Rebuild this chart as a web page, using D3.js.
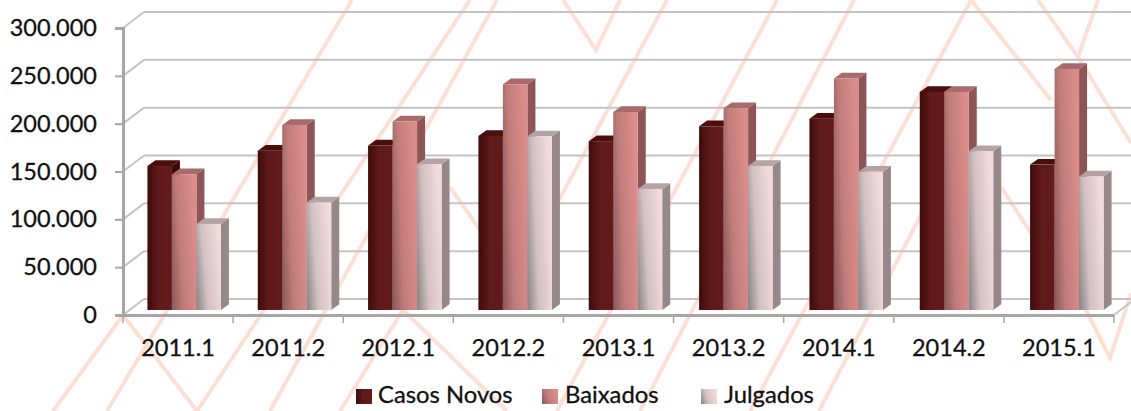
<!DOCTYPE html>
<html>
<head>
<meta charset="utf-8">
<script src="https://cdn.jsdelivr.net/npm/d3@7"></script>
<style>
  html, body { margin: 0; padding: 0; background: #fff; }
  svg { display: block; }
  text { font-family: Lato, "Open Sans", sans-serif; fill: #111; stroke: #111; stroke-width: 0.3px; }
</style>
</head>
<body>
<div id="chart"></div>
<script>
// Chart data
const periods = ['2011.1', '2011.2', '2012.1', '2012.2', '2013.1', '2013.2', '2014.1', '2014.2', '2015.1'];
const seriesNames = ['Casos Novos', 'Baixados', 'Julgados'];
const casosNovos = [150500, 166500, 172000, 182000, 176500, 192000, 200000, 228000, 152000];
const baixados = [142000, 193500, 197000, 236000, 207000, 211000, 242000, 228000, 252000];
const julgados = [90000, 112500, 152500, 181500, 126500, 150500, 144500, 166000, 139500];
const yTicks = [0, 50000, 100000, 150000, 200000, 250000, 300000];

// Faint zigzag watermark behind the chart
const watermark = [
    [[53, 411], [123, 315], [197, 411], [470, 0]],
    [[107, 411], [352, 0]],
    [[270, 411], [497, 0]],
    [[340, 411], [403, 310], [507, 411]],
    [[450, 187], [480, 230]],
    [[563, 0], [596, 50], [620, 0]],
    [[667, 0], [505, 300]],
    [[557, 411], [777, 0]],
    [[640, 411], [854, 0]],
    [[750, 411], [971, 0], [1051, 100]],
    [[819, 411], [960, 140]],
    [[1001, 187], [1031, 233]],
    [[1038, 0], [1078, 57], [1098, 0]],
    [[1078, 57], [1131, 143]],
    [[1081, 300], [1110, 358], [1131, 293]]
];

const width = 1131;
const height = 411;

// Layout of the fake 3D box
const depthX = 21;
const depthY = 16;
const barShiftX = 6;
const barShiftY = 5;
const sideX = 8;
const sideY = 5.7;
const clusterWidth = 73.5;

const svg = d3.select('#chart')
    .append('svg')
    .attr('width', width)
    .attr('height', height)
    .attr('viewBox', [0, 0, width, height]);

// Gradients for the bar fronts
const defs = svg.append('defs');
const frontStops = [
    [['0', '#3f0b0b'], ['0.45', '#5f1a1a'], ['1', '#631a1a']],
    [['0', '#8a5c5c'], ['0.4', '#c07c7a'], ['1', '#dc8d8a']],
    [['0', '#8e8889'], ['0.4', '#d2c0c3'], ['1', '#f1dadc']]
];
frontStops.forEach((stops, i) => {
    const grad = defs.append('linearGradient')
        .attr('id', `front-${i}`)
        .attr('x1', 0).attr('y1', i === 0 ? 0 : 0.85)
        .attr('x2', 1).attr('y2', i === 0 ? 0 : 0.55);
    stops.forEach(s => grad.append('stop').attr('offset', s[0]).attr('stop-color', s[1]));
});
const sideColors = ['#3d0808', '#8d5556', '#968789'];
const topColors = ['#4c0d0d', '#a86a6b', '#b3a3a5'];

// Scales
const x = d3.scaleBand().domain(periods).range([123, 1114]);
const xBars = d3.scaleBand().domain(periods).range([123, 1116]); // bars drift slightly off the axis in the original
const y = d3.scaleLinear().domain([0, 300000]).range([315, 28]);
const xSeries = d3.scaleBand().domain(seriesNames).range([0, clusterWidth]);
const values = [casosNovos, baixados, julgados];
const formatThousands = d3.formatLocale({ decimal: ',', thousands: '.', grouping: [3], currency: ['R$', ''] }).format(',');

// Watermark
svg.append('g').selectAll('path')
    .data(watermark)
    .join('path')
    .attr('d', d3.line())
    .attr('fill', 'none')
    .attr('stroke', '#fde0d5')
    .attr('stroke-width', 4);

// Back wall gridlines plus the slanted bits on the side wall
const grid = svg.append('g');
grid.selectAll('.grid-back')
    .data(yTicks)
    .join('line')
    .attr('class', 'grid-back')
    .attr('x1', 123 + depthX)
    .attr('x2', width)
    .attr('y1', d => y(d) - depthY)
    .attr('y2', d => y(d) - depthY)
    .attr('stroke', '#c4c4c4')
    .attr('stroke-width', 2);
grid.selectAll('.grid-side')
    .data(yTicks)
    .join('line')
    .attr('class', 'grid-side')
    .attr('x1', 123)
    .attr('x2', 123 + depthX)
    .attr('y1', d => y(d))
    .attr('y2', d => y(d) - depthY)
    .attr('stroke', '#c4c4c4')
    .attr('stroke-width', 2);

// Bars
const bars = svg.append('g');
periods.forEach((period, p) => {
    const left = xBars(period) + xBars.bandwidth() / 2 - clusterWidth / 2 + barShiftX;
    seriesNames.forEach((name, s) => {
        const bx = left + xSeries(name);
        const bw = xSeries.bandwidth();
        const base = y(0) - barShiftY;
        const top = y(values[s][p]) - barShiftY;
        bars.append('path')
            .attr('d', d3.line()([[bx + bw, top], [bx + bw + sideX, top - sideY], [bx + bw + sideX, base - sideY], [bx + bw, base]]) + 'Z')
            .attr('fill', sideColors[s]);
        bars.append('path')
            .attr('d', d3.line()([[bx, top], [bx + sideX, top - sideY], [bx + bw + sideX, top - sideY], [bx + bw, top]]) + 'Z')
            .attr('fill', topColors[s]);
        bars.append('rect')
            .attr('x', bx)
            .attr('y', top)
            .attr('width', bw)
            .attr('height', base - top)
            .attr('fill', `url(#front-${s})`);
    });
});

// Y axis
const yAxis = svg.append('g')
    .attr('transform', 'translate(123,0)')
    .call(d3.axisLeft(y).tickValues(yTicks).tickFormat(formatThousands).tickSize(8).tickPadding(18));
yAxis.select('.domain').attr('stroke', '#a6a6a6').attr('stroke-width', 3);
yAxis.selectAll('.tick line').attr('stroke', '#a6a6a6').attr('stroke-width', 2);
yAxis.selectAll('text').attr('font-size', 23.5).attr('font-family', 'Lato').attr('fill', '#111');

// X axis
const xAxis = svg.append('g')
    .attr('transform', 'translate(0,315)')
    .call(d3.axisBottom(x).tickSize(0).tickPadding(24));
xAxis.select('.domain').attr('stroke', '#a6a6a6').attr('stroke-width', 3);
xAxis.selectAll('text').attr('font-size', 23.5).attr('font-family', 'Lato').attr('fill', '#111');
// ticks sit on the band edges, not the centers
xAxis.selectAll('.tick-edge')
    .data(d3.range(periods.length + 1))
    .join('line')
    .attr('class', 'tick-edge')
    .attr('x1', i => 123 + i * x.step())
    .attr('x2', i => 123 + i * x.step())
    .attr('y1', 0)
    .attr('y2', 8)
    .attr('stroke', '#a6a6a6')
    .attr('stroke-width', 1.5);
svg.append('line')
    .attr('x1', x.range()[1]).attr('y1', y(0))
    .attr('x2', x.range()[1] + depthX).attr('y2', y(0) - depthY)
    .attr('stroke', '#c4c4c4')
    .attr('stroke-width', 2);

// Legend
const legendSwatchX = [356, 542, 701];
const legend = svg.append('g')
    .selectAll('g')
    .data(seriesNames)
    .join('g')
    .attr('transform', (d, i) => `translate(${legendSwatchX[i]},389)`);
legend.append('rect')
    .attr('width', 16)
    .attr('height', 15)
    .attr('fill', (d, i) => `url(#front-${i})`);
legend.append('text')
    .attr('x', (d, i) => (i === 0 ? 22 : 23))
    .attr('y', 14)
    .attr('font-size', 23.8)
    .text(d => d);
</script>
</body>
</html>
